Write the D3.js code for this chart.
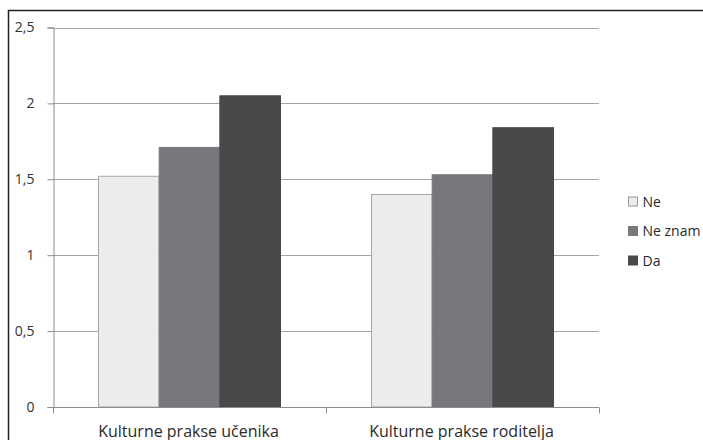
<!DOCTYPE html>
<html>
<head>
<meta charset="utf-8">
<script src="https://cdn.jsdelivr.net/npm/d3@7"></script>
<style>
  html, body { margin: 0; padding: 0; background: #fff; }
  svg { display: block; font-family: "Open Sans", sans-serif; }
</style>
</head>
<body>
<svg id="chart" width="703" height="440"></svg>
<script>
// Data
const categories = ["Kulturne prakse učenika", "Kulturne prakse roditelja"];
const seriesNames = ["Ne", "Ne znam", "Da"];
const neValues = [1.52, 1.40];
const neZnamValues = [1.71, 1.53];
const daValues = [2.05, 1.84];
const yTicks = [0, 0.5, 1, 1.5, 2, 2.5];
const yTickLabels = ["0", "0,5", "1", "1,5", "2", "2,5"];
const seriesColors = ["#ececec", "#77787c", "#48494b"];

const seriesValues = [neValues, neZnamValues, daValues];

const svg = d3.select("#chart");
const margin = { left: 53, right: 104, top: 27.5, bottom: 33 };
const W = 703, H = 440;

// Outer chart frame
svg.append("rect")
  .attr("x", 8.5).attr("y", 10.5)
  .attr("width", W).attr("height", H)
  .attr("fill", "none").attr("stroke", "#222").attr("stroke-width", 1.5);

const x = d3.scaleBand()
  .domain(categories)
  .range([margin.left, W - margin.right])
  .paddingInner(0).paddingOuter(0);

const y = d3.scaleLinear()
  .domain([0, 2.5])
  .range([H - margin.bottom, margin.top]);

// Inner band for the three series inside each category
const xs = d3.scaleBand()
  .domain(seriesNames)
  .range([0, x.bandwidth()])
  .paddingOuter(0.75 / (1 - 0))
  .paddingInner(0);

// Gridlines
svg.append("g")
  .selectAll("line")
  .data(yTicks.filter(t => t > 0))
  .join("line")
  .attr("x1", margin.left).attr("x2", W - margin.right)
  .attr("y1", d => Math.round(y(d)) + 0.5).attr("y2", d => Math.round(y(d)) + 0.5)
  .attr("stroke", "#a4a4a4").attr("stroke-width", 1.2);

// Y axis
const yAxis = d3.axisLeft(y)
  .tickValues(yTicks)
  .tickFormat((d, i) => yTickLabels[i])
  .tickSize(6)
  .tickPadding(13);
const gy = svg.append("g")
  .attr("transform", `translate(${margin.left + 0.5},0)`)
  .call(yAxis);
gy.select(".domain").attr("stroke", "#8c8c8c");
gy.selectAll(".tick line").attr("stroke", "#8c8c8c");
gy.selectAll(".tick text")
  .attr("font-family", "Open Sans")
  .attr("font-size", 14)
  .attr("fill", "#333");

// Bars
const groups = svg.append("g")
  .selectAll("g")
  .data(categories)
  .join("g")
  .attr("transform", d => `translate(${x(d)},0)`);

groups.selectAll("rect")
  .data((c, ci) => seriesNames.map((s, si) => ({ s, si, v: seriesValues[si][ci] })))
  .join("rect")
  .attr("x", d => xs(d.s))
  .attr("width", xs.bandwidth())
  .attr("y", d => y(d.v))
  .attr("height", d => y(0) - y(d.v))
  .attr("fill", d => seriesColors[d.si])
  .attr("stroke", d => d.si === 0 ? "#a6a6a6" : seriesColors[d.si])
  .attr("stroke-width", 1);

// X axis (baseline with category separators)
const y0 = Math.round(y(0)) + 0.5;
svg.append("line")
  .attr("x1", margin.left).attr("x2", W - margin.right)
  .attr("y1", y0).attr("y2", y0)
  .attr("stroke", "#8c8c8c").attr("stroke-width", 1.2);
const boundaries = [x.range()[0], ...categories.map(c => x(c) + x.bandwidth())];
svg.append("g").selectAll("line")
  .data(boundaries)
  .join("line")
  .attr("x1", d => Math.round(d) + 0.5).attr("x2", d => Math.round(d) + 0.5)
  .attr("y1", y0).attr("y2", y0 + 6)
  .attr("stroke", "#8c8c8c");

svg.append("g").selectAll("text")
  .data(categories)
  .join("text")
  .attr("x", d => x(d) + x.bandwidth() / 2 - 1)
  .attr("y", 436.5)
  .attr("text-anchor", "middle")
  .attr("font-size", 16)
  .attr("fill", "#2a2a2a")
  .text(d => d);

// Legend
const legendY = [201.5, 231, 260.5];
const legend = svg.append("g").selectAll("g")
  .data(seriesNames)
  .join("g")
  .attr("transform", (d, i) => `translate(628,${legendY[i]})`);
legend.append("rect")
  .attr("x", 0.5).attr("y", -4.5)
  .attr("width", 9).attr("height", 9)
  .attr("fill", (d, i) => seriesColors[i])
  .attr("stroke", (d, i) => i === 0 ? "#9a9a9a" : seriesColors[i]);
legend.append("text")
  .attr("x", 14.5).attr("y", 0)
  .attr("dy", "0.36em")
  .attr("font-size", 14)
  .attr("fill", "#2a2a2a")
  .text(d => d);
</script>
</body>
</html>
